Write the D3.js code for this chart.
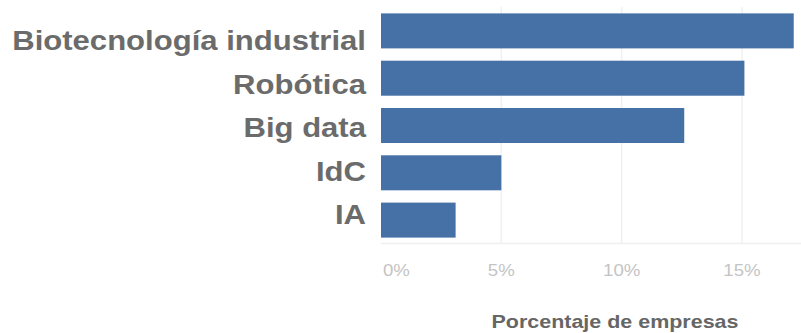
<!DOCTYPE html>
<html>
<head>
<meta charset="utf-8">
<script src="https://cdn.jsdelivr.net/npm/d3@7"></script>
<style>
  html, body { margin: 0; padding: 0; background: #fff; }
  svg { display: block; }
  text { font-family: "Liberation Sans", Arial, sans-serif; }
</style>
</head>
<body>
<svg id="chart" width="801" height="333"></svg>
<script>
// Share of companies using each technology (%)
const categories = ["Biotecnología industrial", "Robótica", "Big data", "IdC", "IA"];
const values = [17.15, 15.1, 12.6, 5.0, 3.1];
const tickValues = [0, 5, 10, 15];
const tickLabels = ["0%", "5%", "10%", "15%"];
const axisTitle = "Porcentaje de empresas";

const svg = d3.select("#chart");
const stretch = 1.13; // text is drawn slightly wide

const x = d3.scaleLinear().domain([0, 15]).range([381, 742]);
const y = d3.scaleBand().domain(categories).range([7, 244]).paddingInner(0.26).paddingOuter(0.135);
// category labels sit on their own, slightly tighter rhythm
const yLabel = d3.scalePoint().domain(categories).range([50, 224]);

// vertical gridlines
svg.append("g").selectAll("line")
  .data(tickValues.slice(1))
  .join("line")
  .attr("x1", d => x(d)).attr("x2", d => x(d))
  .attr("y1", 7).attr("y2", 244)
  .attr("stroke", "#f0f0f0").attr("stroke-width", 1.5);

// baseline
svg.append("line")
  .attr("x1", x(0)).attr("x2", 801)
  .attr("y1", 243.5).attr("y2", 243.5)
  .attr("stroke", "#f0f0f0").attr("stroke-width", 1.5);

// bars
svg.append("g").selectAll("rect")
  .data(categories)
  .join("rect")
  .attr("x", x(0))
  .attr("y", d => y(d))
  .attr("width", (d, i) => x(values[i]) - x(0))
  .attr("height", y.bandwidth())
  .attr("fill", "#4671a7");

// category labels
svg.append("g").selectAll("text")
  .data(categories)
  .join("text")
  .attr("transform", d => `translate(366,${yLabel(d)}) scale(${stretch},1)`)
  .attr("text-anchor", "end")
  .attr("font-size", 27.5)
  .attr("font-weight", "bold")
  .attr("fill", "#6b6b6b")
  .text(d => d);

// tick labels
svg.append("g").selectAll("text")
  .data(tickValues)
  .join("text")
  .attr("transform", (d, i) => `translate(${i === 0 ? x(d) + 2 : x(d)},276) scale(${stretch},1)`)
  .attr("text-anchor", (d, i) => i === 0 ? "start" : "middle")
  .attr("font-size", 16.5)
  .attr("fill", "#c4c4c4")
  .text((d, i) => tickLabels[i]);

// axis title
svg.append("text")
  .attr("transform", `translate(615,328) scale(${stretch},1)`)
  .attr("text-anchor", "middle")
  .attr("font-size", 19)
  .attr("font-weight", "bold")
  .attr("fill", "#666")
  .text(axisTitle);
</script>
</body>
</html>
